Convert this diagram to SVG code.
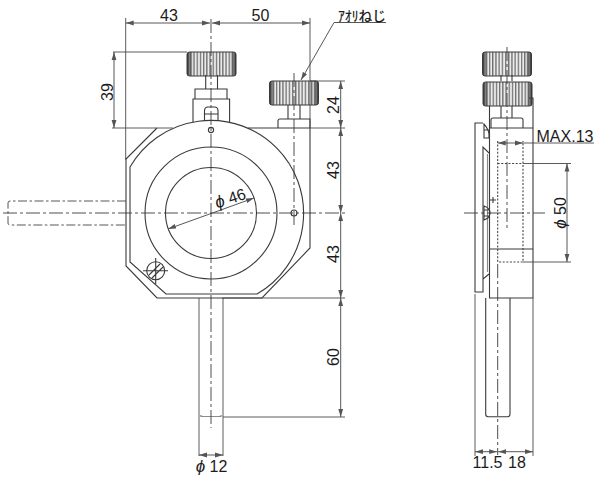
<svg xmlns="http://www.w3.org/2000/svg" width="600" height="477" viewBox="0 0 600 477">
<style>
.o{fill:none;stroke:#3a3a3a;stroke-width:1.1}
.h{fill:none;stroke:#4a4a4a;stroke-width:.9}
.g{fill:none;stroke:#8a8a8a;stroke-width:1.2}
.c{fill:none;stroke:#3a3a3a;stroke-width:.9;stroke-dasharray:14 3 3 3}
.r{fill:none;stroke:#444;stroke-width:.9;stroke-dasharray:9 2.5 2.5 2.5}
.d{fill:none;stroke:#444;stroke-width:1.1;stroke-dasharray:2 1.6}
.m{fill:none;stroke:#444;stroke-width:.9;marker-start:url(#a);marker-end:url(#a)}
.e{fill:none;stroke:#444;stroke-width:.9;marker-end:url(#a)}
.t{font-family:"Liberation Sans",Arial,sans-serif;font-size:16px;fill:#1c1c1c;text-anchor:middle}
.p{font-style:italic;font-size:17px}
</style>
<defs>
<marker id="a" viewBox="0 0 8 6" refX="8" refY="3" markerWidth="8" markerHeight="6" markerUnits="userSpaceOnUse" orient="auto-start-reverse"><path d="M0 .6L8 3L0 5.4Z" fill="#555"/></marker>
<pattern id="k" width="3.2" height="10" patternUnits="userSpaceOnUse"><rect width="3.2" height="10" fill="#fff"/><rect width="1.3" height="10" fill="#777"/></pattern>
<linearGradient id="s"><stop offset="0" stop-color="#333"/><stop offset=".12" stop-color="#333" stop-opacity=".1"/><stop offset=".88" stop-color="#333" stop-opacity=".1"/><stop offset="1" stop-color="#333"/></linearGradient>
<g id="knob"><rect width="49" height="24" rx="2.5" fill="url(#k)"/><rect width="49" height="24" rx="2.5" fill="url(#s)" stroke="#3a3a3a" stroke-width="1"/></g>
</defs>

<g id="front-body">
<path class="o" d="M248 128H310V248L262 298H157L126 266V159L157 128"/>
<path class="o" d="M130 262V167A93 93 0 1 1 257 294H166Z"/>
<circle class="o" cx="211" cy="213" r="66"/>
<circle class="o" cx="211" cy="213" r="45.500"/>
</g>
<g id="front-knob-top">
<use href="#knob" x="187" y="52"/>
<path class="o" d="M205.700 75V89M217.500 75V89M195 99V89H227V99M193 122V99H229.600V122"/>
<path class="o" d="M204.500 120V111Q204.500 107 208 107H214.500Q218 107 218 111V120M204.500 114H218"/>
<circle class="o" cx="211" cy="130" r="2.600"/>
</g>
<g id="front-knob-right">
<use href="#knob" x="269.500" y="81"/>
<path class="o" d="M288 105V119M300 105V119M278 128V121Q278 119 280 119H310V128"/>
<circle class="o" cx="294" cy="213" r="3"/>
</g>
<g id="front-screw">
<circle class="o" cx="155.700" cy="270.700" r="9"/>
<path class="o" d="M149 275L160 264M152 278L163 267M155.700 258V284M143 270.700H168"/>
</g>
<g id="rods">
<path class="r" d="M126 201H10Q8 201 8 203V223Q8 225 10 225H126"/>
<path class="h" d="M199 298V456M223 298V456"/>
<path class="g" d="M200 415.500Q201 416.500 203 416.500H219Q221 416.500 222 415.500"/>
</g>

<g id="side-view">
<use href="#knob" x="482.500" y="52"/>
<use href="#knob" x="483" y="82"/>
<path class="o" d="M501 75V81M512 75V81M501 106V118M512 106V118"/>
<path class="o" d="M491 128V120Q491 118 493 118H521Q523 118 523 120V128M489.500 106V298H533V98H529"/>
<path class="o" d="M489.500 128H533M489.500 249H533M485.700 298V414Q485.700 416.700 488 416.700H507.700Q510 416.700 510 414V298"/>
<path class="o" d="M483 123H475V292H483V279L489 274M483 279V147L489 153M475 123H483"/>
<path class="g" d="M487.500 154V272"/>
<path class="o" d="M483.500 123.500Q490 130 489 138H484V123.500M484 206V220Q490 218 490 213Q490 208 484 206ZM484 130H489M484 210H490M484 216H490"/>
<path class="o" d="M490 200H496M493 197V203"/>
<path class="d" d="M497.700 141V262H523V141M497.700 163.500H523"/>
</g>

<g id="connectors">
<path class="h" d="M125.700 18V160M310 18V128M113 52H187M112 128H173M310 81H345M310 128H345M222 298H345M223 417H345M523 163.500H571M523 262H571M475 294V456M533 298V456"/>
<path class="c" d="M3 213H345"/>
<path class="c" d="M211 19V428"/>
<path class="c" d="M294 73V228"/>
<path class="c" d="M464 213H545"/>
<path class="c" d="M507 47V229"/>
<path class="c" d="M497.700 264V455"/>
<path class="m" d="M125.700 23H210"/>
<path class="m" d="M212 23H310"/>
<path class="m" d="M114 52V128"/>
<path class="m" d="M340.700 81V128"/>
<path class="m" d="M340.700 128V213"/>
<path class="m" d="M340.700 213V298"/>
<path class="m" d="M340.700 298V417"/>
<path class="m" d="M199 455H223"/>
<path class="m" d="M168 229L254 198"/>
<path class="m" d="M475 451.700H497.200"/>
<path class="m" d="M498.200 451.700H533"/>
<path class="m" d="M567 163.500V262"/>
<path class="m" d="M497.700 143H523"/>
<path class="h" d="M523 143H594"/>
<path class="e" d="M386 22.500H334L301 80"/>
</g>

<g id="labels">
<text class="t" x="169" y="21">43</text>
<text class="t" x="260.500" y="21">50</text>
<text class="t" transform="translate(112.500 92) rotate(-90)">39</text>
<text class="t" transform="translate(339 105) rotate(-90)">24</text>
<text class="t" transform="translate(339 170) rotate(-90)">43</text>
<text class="t" transform="translate(339 254) rotate(-90)">43</text>
<text class="t" transform="translate(339 357) rotate(-90)">60</text>
<text class="t" transform="translate(232 203.500) rotate(-18)"><tspan class="p">ϕ</tspan> 46</text>
<text class="t" x="211.500" y="472"><tspan class="p">ϕ</tspan> 12</text>
<text class="t" x="487.500" y="467.700">11.5</text>
<text class="t" x="517" y="467.700">18</text>
<text class="t" x="565" y="142">MAX.13</text>
<text class="t" transform="translate(566 213) rotate(-90)"><tspan class="p">ϕ</tspan> 50</text>
<text x="338" y="20.500" style="font-family:'Noto Sans CJK JP',sans-serif;font-size:14px;font-weight:500;fill:#1c1c1c" textLength="48" lengthAdjust="spacingAndGlyphs">ｱｵﾘねじ</text>
</g>
</svg>
